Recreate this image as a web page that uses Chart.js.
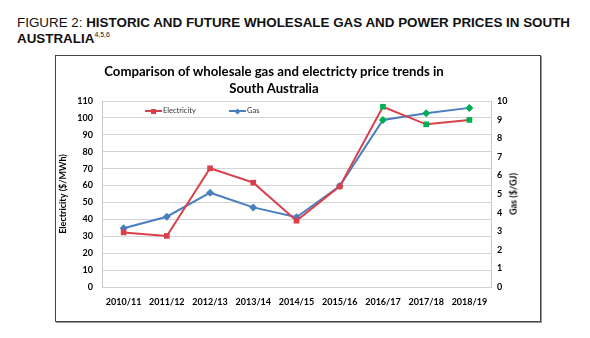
<!DOCTYPE html>
<html>
<head>
<meta charset="utf-8">
<script src="https://cdn.jsdelivr.net/npm/chart.js@4/dist/chart.umd.min.js"></script>
<style>
  body { margin: 0; background: #fff; }
  #wrap { position: relative; width: 590px; height: 338px; overflow: hidden; }
  #cap { position: absolute; left: 17px; top: 15px; font: 13.4px/15.5px "Liberation Sans", Arial, sans-serif; color: #111; white-space: nowrap; }
  #cap b { font-weight: bold; }
  #cap sup { font-size: 7px; vertical-align: 6px; line-height: 0; }
  #box { position: absolute; left: 55px; top: 55px; width: 484px; height: 265px; border: 1px solid #444; box-shadow: 1px 1px 0 #999; }
  #title { position: absolute; left: 74px; width: 400px; top: 63px; text-align: center; font: bold 13.2px/17px Lato, sans-serif; color: #000; }
  #legend { position: absolute; top: 105px; left: 0; font: 7.5px/11px Lato, sans-serif; color: #333; }
  .item { position: absolute; white-space: nowrap; }
  .ln { position: absolute; top: 5px; height: 2px; }
  .mk { position: absolute; width: 5px; height: 5px; top: 3.5px; }
  .txt { position: absolute; top: 0; }
  #y2title { position: absolute; left: 513px; top: 194px; font: bold 9px Lato, sans-serif; color: #000; white-space: nowrap; transform: translate(-50%, -50%) rotate(-90deg); }
  canvas { position: absolute; left: 0; top: 0; }
</style>
</head>
<body>
<div id="wrap">
  <div id="cap">FIGURE 2: <b>HISTORIC AND FUTURE WHOLESALE GAS AND POWER PRICES IN SOUTH<br>AUSTRALIA</b><sup>4,5,6</sup></div>
  <div id="box"></div>
  <canvas id="canvas" width="590" height="338"></canvas>
  <div id="title">Comparison of wholesale gas and electricty price trends in<br>South Australia</div>
  <div id="legend"></div>
  <div id="y2title">Gas ($/GJ)</div>
</div>
<script>
const years = ['2010/11', '2011/12', '2012/13', '2013/14', '2014/15', '2015/16', '2016/17', '2017/18', '2018/19']
const electricity = [32.3, 30.2, 70.2, 61.7, 39.2, 59.5, 106.6, 96.2, 98.8]
const gas = [3.16, 3.78, 5.07, 4.28, 3.75, 5.43, 8.98, 9.34, 9.63]
const elecTicks = [0, 110, 10]
const gasTicks = [0, 10, 1]
const forecastFrom = '2016/17'

const red = '#D9404A'
const blue = '#4A7EC2'
const green = '#00B050'
const forecastIdx = years.indexOf(forecastFrom)
const markColor = (base) => (ctx) => ctx.dataIndex >= forecastIdx ? green : base
const tickFont = { family: 'Lato', size: 9, weight: 'bold' }

// legend drawn over the plot area, like the original
const legendItems = [
  { name: 'Electricity', color: red, shape: 'square', x: 145 },
  { name: 'Gas', color: blue, shape: 'diamond', x: 229 }
]
const legend = document.getElementById('legend')
legendItems.forEach((it) => {
  const d = document.createElement('div')
  d.className = 'item'
  d.style.left = it.x + 'px'
  const rot = it.shape == 'diamond' ? 'transform:rotate(45deg) scale(0.85);' : ''
  d.innerHTML = '<div class="ln" style="left:0;width:17px;background:' + it.color + '"></div>' +
    '<div class="mk" style="left:6px;background:' + it.color + ';' + rot + '"></div>' +
    '<div class="txt" style="left:18px">' + it.name + '</div>'
  legend.appendChild(d)
})

const ctx = document.getElementById('canvas')
new Chart(ctx, {
  type: 'line',
  data: {
    labels: years,
    datasets: [{
      label: 'Electricity',
      data: electricity,
      yAxisID: 'y',
      borderColor: red,
      borderWidth: 2,
      pointStyle: 'rect',
      pointRadius: 4,
      pointBackgroundColor: markColor(red),
      pointBorderColor: markColor(red),
      pointBorderWidth: 0,
      tension: 0
    }, {
      label: 'Gas',
      data: gas,
      yAxisID: 'y1',
      borderColor: blue,
      borderWidth: 2,
      pointStyle: 'rectRot',
      pointRadius: 4,
      pointBackgroundColor: markColor(blue),
      pointBorderColor: markColor(blue),
      pointBorderWidth: 0,
      tension: 0
    }]
  },
  options: {
    responsive: false,
    animation: false,
    devicePixelRatio: 1,
    layout: { padding: { left: 55, right: 49, top: 101, bottom: 16 } },
    plugins: {
      legend: { display: false },
      title: { display: false },
      tooltip: { enabled: false }
    },
    scales: {
      x: {
        offset: true,
        grid: { display: false, drawTicks: false },
        border: { display: false },
        ticks: { font: tickFont, color: '#000', padding: 10, maxRotation: 0, autoSkip: false },
        afterFit: (s) => { s.height = 35 }
      },
      y: {
        position: 'left',
        min: elecTicks[0],
        max: elecTicks[1],
        ticks: { stepSize: elecTicks[2], font: tickFont, color: '#000', padding: 9 },
        grid: { color: '#d4d4d4', drawTicks: false },
        border: { color: '#c8c8c8' },
        title: { display: true, text: 'Electricity ($/MWh)', font: tickFont, color: '#000', padding: { top: 3, bottom: 0 } },
        afterFit: (s) => { s.width = 47 }
      },
      y1: {
        position: 'right',
        min: gasTicks[0],
        max: gasTicks[1],
        ticks: { stepSize: gasTicks[2], font: tickFont, color: '#000', padding: 6 },
        grid: { drawOnChartArea: false, drawTicks: false },
        border: { color: '#c8c8c8' },
        afterFit: (s) => { s.width = 50 }
      }
    }
  }
})
</script>
</body>
</html>
